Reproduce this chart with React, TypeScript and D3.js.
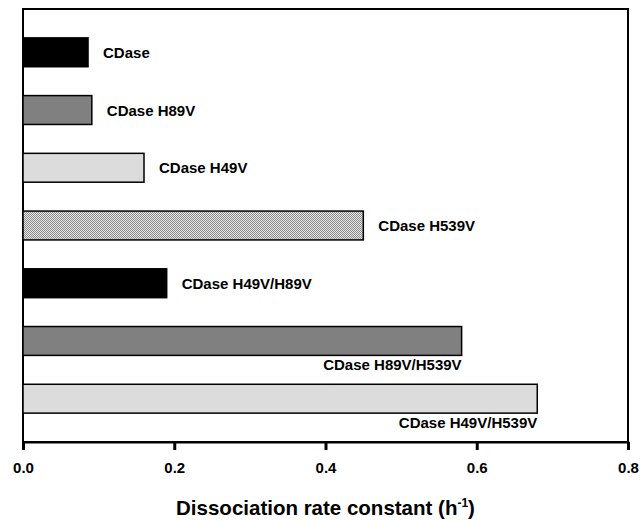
import * as d3 from "d3";
import { useEffect, useRef } from "react";

const categories = [
  "CDase",
  "CDase H89V",
  "CDase H49V",
  "CDase H539V",
  "CDase H49V/H89V",
  "CDase H89V/H539V",
  "CDase H49V/H539V",
];
const rates = [0.086, 0.091, 0.16, 0.45, 0.19, 0.58, 0.68];
const fills = ["#000000", "#808080", "#dcdcdc", "url(#stipple)", "#000000", "#808080", "#dcdcdc"];
// labels for the two longest bars sit under the bar, right aligned
const labelBelow = [false, false, false, false, false, true, true];
const xTicks = [0, 0.2, 0.4, 0.6, 0.8];

const svgX = 640;
const svgY = 521;

export default function App() {
  const ref = useRef<SVGSVGElement>(null);

  useEffect(() => {
    const margin = { top: 9, right: 12, bottom: 79, left: 23 };
    const width = svgX - margin.left - margin.right;
    const height = svgY - margin.top - margin.bottom;

    const root = d3.select(ref.current);
    root.selectAll("*").remove();

    // fine stipple fill used by the H539V bar
    const pat = root
      .append("defs")
      .append("pattern")
      .attr("id", "stipple")
      .attr("width", 2)
      .attr("height", 2)
      .attr("patternUnits", "userSpaceOnUse");
    pat.append("rect").attr("width", 2).attr("height", 2).attr("fill", "#e8e8e8");
    pat.append("rect").attr("width", 1).attr("height", 1).attr("fill", "#8a8a8a");
    pat.append("rect").attr("x", 1).attr("y", 1).attr("width", 1).attr("height", 1).attr("fill", "#8a8a8a");

    const svg = root
      .append("g")
      .attr("transform", `translate(${margin.left},${margin.top})`);

    const x = d3.scaleLinear().domain([0, 0.8]).range([0, width]);
    const y = d3
      .scaleBand()
      .domain(categories)
      .range([0, height])
      .paddingInner(0.5)
      .paddingOuter(0.5);

    // frame
    svg
      .append("rect")
      .attr("x", 0)
      .attr("y", 0)
      .attr("width", width)
      .attr("height", height)
      .attr("fill", "none")
      .attr("stroke", "#000")
      .attr("stroke-width", 2);

    // bars
    svg
      .selectAll("rect.bar")
      .data(rates)
      .join("rect")
      .attr("class", "bar")
      .attr("x", x(0))
      .attr("y", (d, i) => y(categories[i])!)
      .attr("width", (d) => x(d) - x(0))
      .attr("height", y.bandwidth())
      .attr("fill", (d, i) => fills[i])
      .attr("stroke", "#000")
      .attr("stroke-width", 1.5);

    // bar labels
    svg
      .selectAll("text.lab")
      .data(rates)
      .join("text")
      .attr("class", "lab")
      .attr("x", (d, i) => (labelBelow[i] ? x(d) : x(d) + 15))
      .attr("y", (d, i) =>
        labelBelow[i]
          ? y(categories[i])! + y.bandwidth() + 15
          : y(categories[i])! + y.bandwidth() / 2 + 5.5
      )
      .attr("text-anchor", (d, i) => (labelBelow[i] ? "end" : "start"))
      .attr("font-family", "Liberation Sans, Arial, sans-serif")
      .attr("font-weight", "bold")
      .attr("font-size", 15)
      .text((d, i) => categories[i]);

    // x axis
    const ax = svg
      .append("g")
      .attr("transform", `translate(0,${height})`)
      .call(
        d3
          .axisBottom(x)
          .tickValues(xTicks)
          .tickFormat(d3.format(".1f"))
          .tickSize(8)
          .tickPadding(12)
      );
    ax.select(".domain").attr("stroke-width", 2);
    ax.selectAll(".tick line").attr("stroke-width", 3);
    ax.selectAll(".tick text")
      .attr("font-family", "Liberation Sans, Arial, sans-serif")
      .attr("font-weight", "bold")
      .attr("font-size", 15)
      .attr("fill", "#000");

    // axis title
    const title = svg
      .append("text")
      .attr("x", width / 2)
      .attr("y", height + 73)
      .attr("text-anchor", "middle")
      .attr("font-family", "Liberation Sans, Arial, sans-serif")
      .attr("font-weight", "bold")
      .attr("font-size", 20.5);
    title.append("tspan").text("Dissociation rate constant (h");
    title.append("tspan").attr("font-size", 12).attr("dy", -8).text("-1");
    title.append("tspan").attr("dy", 8).text(")");
  }, []);

  return (
    <svg
      ref={ref}
      width={svgX}
      height={svgY}
      style={{ position: "absolute", left: 0, top: 0, background: "#fff" }}
    />
  );
}
